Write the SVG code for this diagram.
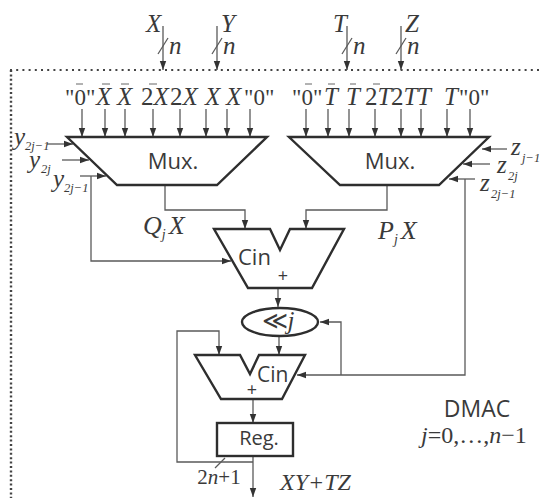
<svg xmlns="http://www.w3.org/2000/svg" width="543" height="498" viewBox="0 0 543 498">
<style>
.n{fill:#fff;stroke:#2e2e2e;stroke-width:2.4;stroke-linejoin:miter}
.c{fill:none;stroke:#5a5a5a;stroke-width:1.3}
.a{fill:none;stroke:#5a5a5a;stroke-width:1.3;marker-end:url(#ah)}
.d{fill:none;stroke:#444;stroke-width:2;stroke-dasharray:2 4.2}
.d2{fill:none;stroke:#444;stroke-width:2.4;stroke-dasharray:2 2.4}
.b{stroke:#666;stroke-width:1;fill:none}
text{fill:#3a3a3a;font-family:"Liberation Serif",serif;font-size:25px}
.i{font-style:italic}
.s{font-family:"Open Sans","Noto Sans",sans-serif;font-size:22px}
.u{font-size:12.5px}
.v{font-size:25px}
.m{text-anchor:middle}
</style>
<defs>
<marker id="ah" markerUnits="userSpaceOnUse" markerWidth="10" markerHeight="8" refX="9" refY="4" orient="auto"><path d="M0 0.8L9 4L0 7.2z" fill="#333"/></marker>
</defs>
<rect width="543" height="498" fill="#fff"/>
<g id="boundary">
<path class="d" d="M10 70H543"/><path class="d2" d="M11 70V498"/>
</g>
<g id="connectors">
<path class="a" d="M163 26V70"/><path class="c" d="M158 54L168 38"/>
<path class="a" d="M217 26V70"/><path class="c" d="M212 54L222 38"/>
<path class="a" d="M347 26V70"/><path class="c" d="M342 54L352 38"/>
<path class="a" d="M401 26V70"/><path class="c" d="M396 54L406 38"/>
<path class="a" d="M82 109V137"/><path class="a" d="M105 109V137"/><path class="a" d="M125 109V137"/><path class="a" d="M153 109V137"/><path class="a" d="M180 109V137"/><path class="a" d="M206 109V137"/><path class="a" d="M227 109V137"/><path class="a" d="M250 109V137"/>
<path class="a" d="M306 109V137"/><path class="a" d="M328 109V137"/><path class="a" d="M349 109V137"/><path class="a" d="M375 109V137"/><path class="a" d="M401 109V137"/><path class="a" d="M421 109V137"/><path class="a" d="M447 109V137"/><path class="a" d="M470 109V137"/>
<path class="a" d="M47 144H73"/><path class="a" d="M62 160H89"/><path class="a" d="M80 176H106"/>
<path class="a" d="M507 149H482"/><path class="a" d="M490 164H463"/><path class="a" d="M475 179H449"/>
<path class="a" d="M91 176V261H231"/>
<path class="a" d="M165 185V210H245V229"/>
<path class="a" d="M387 185V210H306V229"/>
<path class="a" d="M278 288V307"/>
<path class="a" d="M279 336V355"/>
<path class="a" d="M465 179V375H297"/>
<path class="a" d="M341 375V322H320"/>
<path class="a" d="M253 399V423"/>
<path class="a" d="M253 456V497"/>
<path class="a" d="M253 462H177V331H219V355"/>
<path class="c" d="M215 468L225 458"/>
</g>
<g id="mux-x">
<path class="n" d="M67 137H267L217 185H117Z"/>
<text class="s m" x="173" y="169">Mux.</text>
</g>
<g id="mux-t">
<path class="n" d="M289 137H489L439 185H340Z"/>
<text class="s m" x="390" y="169">Mux.</text>
</g>
<g id="adder-1">
<path class="n" d="M214 229H270L280 250L290 229H344L312 288H248Z"/>
<text class="s" x="238" y="265">Cin</text>
<text class="s m" x="283" y="282" style="font-size:18px">+</text>
</g>
<g id="shift">
<ellipse class="n" cx="280" cy="322" rx="38" ry="14"/>
<text class="m" x="278" y="329" style="font-size:25px">≪<tspan class="i">j</tspan></text>
</g>
<g id="adder-2">
<path class="n" d="M195 355H240L250 374L259 355H305L282 399H221Z"/>
<text class="s" x="257" y="382" style="font-size:21px">Cin</text>
<text class="s m" x="252" y="396" style="font-size:18px">+</text>
</g>
<g id="reg">
<rect class="n" x="217" y="423" width="76" height="33"/>
<text class="s m" x="259" y="445" style="font-size:20px">Reg.</text>
</g>
<g id="labels">
<text class="i" x="146" y="32">X</text>
<text class="i" x="221" y="32">Y</text>
<text class="i" x="333" y="32">T</text>
<text class="i" x="405" y="32">Z</text>
<text class="i" x="169" y="54">n</text><text class="i" x="223" y="54">n</text><text class="i" x="353" y="54">n</text><text class="i" x="407" y="54">n</text>

<text x="65" y="105" style="font-size:23px">"0"</text><text class="i" x="96" y="105">X</text><text class="i" x="117" y="105">X</text><text x="141" y="105">2<tspan class="i">X</tspan></text><text x="170" y="105">2<tspan class="i">X</tspan></text><text class="i" x="205" y="105">X</text><text class="i" x="226" y="105">X</text><text x="244" y="105" style="font-size:23px">"0"</text>
<text x="292" y="105" style="font-size:23px">"0"</text><text class="i" x="324" y="105">T</text><text class="i" x="346" y="105">T</text><text x="365" y="105">2<tspan class="i">T</tspan></text><text x="391" y="105">2<tspan class="i">T</tspan></text><text class="i" x="417" y="105">T</text><text class="i" x="444" y="105">T</text><text x="459" y="105" style="font-size:23px">"0"</text>
<path class="b" d="M76 84H83M102 84H110M121 84H129M149 84H157M305 84H312M328 84H335M350 84H356M373 84H380"/>

<text class="i v" x="14" y="145">y</text><text class="i u" x="25" y="150">2j−1</text>
<text class="i v" x="29" y="168">y</text><text class="i u" x="41" y="173">2j</text>
<text class="i v" x="53" y="187">y</text><text class="i u" x="64" y="192">2j−1</text>
<text class="i v" x="511" y="155">z</text><text class="i u" x="522" y="162">j−1</text>
<text class="i v" x="497" y="173">z</text><text class="i u" x="508" y="180">2j</text>
<text class="i v" x="480" y="191">z</text><text class="i u" x="491" y="198">2j−1</text>

<text class="i" x="143" y="234" style="font-size:26px">Q<tspan style="font-size:14px" dy="5">j</tspan><tspan dx="3" dy="-5">X</tspan></text>
<text class="i" x="378" y="239" style="font-size:26px">P<tspan style="font-size:14px" dy="5">j</tspan><tspan dx="3" dy="-5">X</tspan></text>

<text class="s m" x="477" y="417" style="font-size:23px">DMAC</text>
<text class="m" x="474" y="443" style="font-size:24px"><tspan class="i">j</tspan>=0,…,<tspan class="i">n</tspan>−1</text>
<text class="m" x="219" y="484" style="font-size:21px">2<tspan class="i">n</tspan>+1</text>
<text class="i" x="280" y="490" style="font-size:24px">XY+TZ</text>
</g>
</svg>
